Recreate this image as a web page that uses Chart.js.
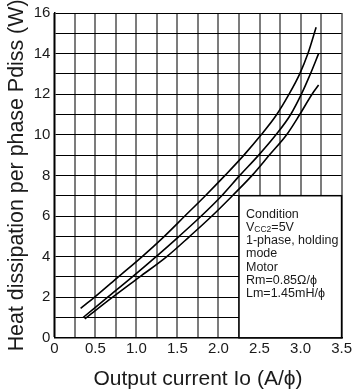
<!DOCTYPE html>
<html>
<head>
<meta charset="utf-8">
<script src="https://cdn.jsdelivr.net/npm/chart.js@4/dist/chart.umd.min.js"></script>
<style>
  html, body { margin: 0; padding: 0; background: #fff; }
  #wrap { width: 354px; height: 392px; }
</style>
</head>
<body>
<div id="wrap"><canvas id="pdissChart" width="354" height="392"></canvas></div>
<script>
// Heat dissipation per phase vs output current, three curves
const curveAX = [0.32, 0.49, 0.78, 1.07, 1.34, 1.59, 1.84, 2.08, 2.31, 2.52, 2.71, 2.86, 2.99, 3.09, 3.19];
const curveAY = [1.45, 2, 3, 4, 5, 6, 7, 8, 9, 10, 11, 12, 13, 14, 15.3];

const curveBX = [0.35, 0.65, 0.95, 1.24, 1.52, 1.79, 2.04, 2.26, 2.49, 2.70, 2.88, 3.01, 3.12, 3.22];
const curveBY = [1.0, 2, 3, 4, 5, 6, 7, 8, 9, 10, 11, 12, 13, 14.0];

const curveCX = [0.37, 0.71, 1.04, 1.37, 1.65, 1.92, 2.17, 2.41, 2.62, 2.83, 2.99, 3.14, 3.22];
const curveCY = [0.93, 2, 3, 4, 5, 6, 7, 8, 9, 10, 11, 12, 12.45];

const xTickLabels = ['0', '0.5', '1.0', '1.5', '2.0', '2.5', '3.0', '3.5'];
const yTickLabels = ['0', '2', '4', '6', '8', '10', '12', '14', '16'];

// condition note sits in the lower right corner, from (2.25, 7) down to the axis
const noteCorner = [2.25, 7];
const noteLines = ['Condition', 'V_{CC2}=5V', '1-phase, holding', 'mode', 'Motor', 'Rm=0.85Ω/ϕ', 'Lm=1.45mH/ϕ'];

const FONT = '"Liberation Sans", Arial, Helvetica, sans-serif';

function toPoints(xs, ys) {
    return xs.map((x, i) => ({ x, y: ys[i] }));
}

function curve(xs, ys) {
    return {
        data: toPoints(xs, ys),
        showLine: true,
        borderColor: '#000',
        borderWidth: 1.6,
        pointRadius: 0,
        cubicInterpolationMode: 'monotone',
        fill: false
    };
}

// draws one line of the note, handling a _{...} subscript
function drawNoteLine(ctx, text, x, y) {
    const parts = text.split(/_\{|\}/);
    let cx = x;
    parts.forEach((part, i) => {
        const sub = i % 2 === 1;
        ctx.font = (sub ? '8.5px ' : '12.5px ') + FONT;
        ctx.fillText(part, cx, sub ? y + 2 : y);
        cx += ctx.measureText(part).width;
    });
}

const conditionNote = {
    id: 'conditionNote',
    beforeDatasetsDraw(chart) {
        const { ctx, scales: { x, y } } = chart;
        const left = x.getPixelForValue(noteCorner[0]);
        const top = y.getPixelForValue(noteCorner[1]);
        const right = x.getPixelForValue(x.max);
        const bottom = y.getPixelForValue(y.min);

        ctx.save();
        ctx.fillStyle = '#fff';
        ctx.fillRect(left, top, right - left, bottom - top);
        ctx.strokeStyle = '#000';
        ctx.lineWidth = 1.5;
        ctx.strokeRect(left, top, right - left, bottom - top);

        ctx.fillStyle = '#1a1a1a';
        ctx.textBaseline = 'middle';
        ctx.textAlign = 'left';
        noteLines.forEach((line, i) => {
            drawNoteLine(ctx, line, left + 7, top + 19 + i * 13.1);
        });
        ctx.restore();
    }
};

new Chart(document.getElementById('pdissChart').getContext('2d'), {
    type: 'scatter',
    data: {
        datasets: [
            curve(curveAX, curveAY),
            curve(curveBX, curveBY),
            curve(curveCX, curveCY)
        ]
    },
    options: {
        responsive: false,
        devicePixelRatio: 1,
        animation: false,
        layout: { padding: { top: 0, right: 0, left: 0, bottom: 0 } },
        plugins: {
            legend: { display: false },
            tooltip: { enabled: false }
        },
        scales: {
            x: {
                type: 'linear',
                min: 0,
                max: 3.5,
                grid: { color: '#7c7c7c', lineWidth: 2, drawTicks: false },
                border: { color: '#000', width: 1.5 },
                ticks: {
                    stepSize: 0.25,
                    autoSkip: false,
                    maxRotation: 0,
                    padding: 2,
                    color: '#1a1a1a',
                    font: { family: FONT, size: 15 },
                    callback: (v, i) => (i % 2 === 0 ? xTickLabels[i / 2] : '')
                },
                title: {
                    display: true,
                    text: 'Output current Io (A/ϕ)',
                    color: '#1a1a1a',
                    font: { family: FONT, size: 21 },
                    padding: { top: 7, bottom: 0 }
                }
            },
            y: {
                type: 'linear',
                min: 0,
                max: 16,
                grid: { color: '#000', lineWidth: 1, drawTicks: false },
                border: { color: '#000', width: 1.5 },
                ticks: {
                    stepSize: 1,
                    autoSkip: false,
                    padding: 4,
                    color: '#1a1a1a',
                    font: { family: FONT, size: 15 },
                    callback: (v, i) => (i % 2 === 0 ? yTickLabels[i / 2] : '')
                },
                title: {
                    display: true,
                    text: 'Heat dissipation per phase Pdiss (W)',
                    color: '#1a1a1a',
                    font: { family: FONT, size: 21.4 },
                    padding: { top: 4, bottom: 0 }
                }
            }
        }
    },
    plugins: [conditionNote]
});
</script>
</body>
</html>
